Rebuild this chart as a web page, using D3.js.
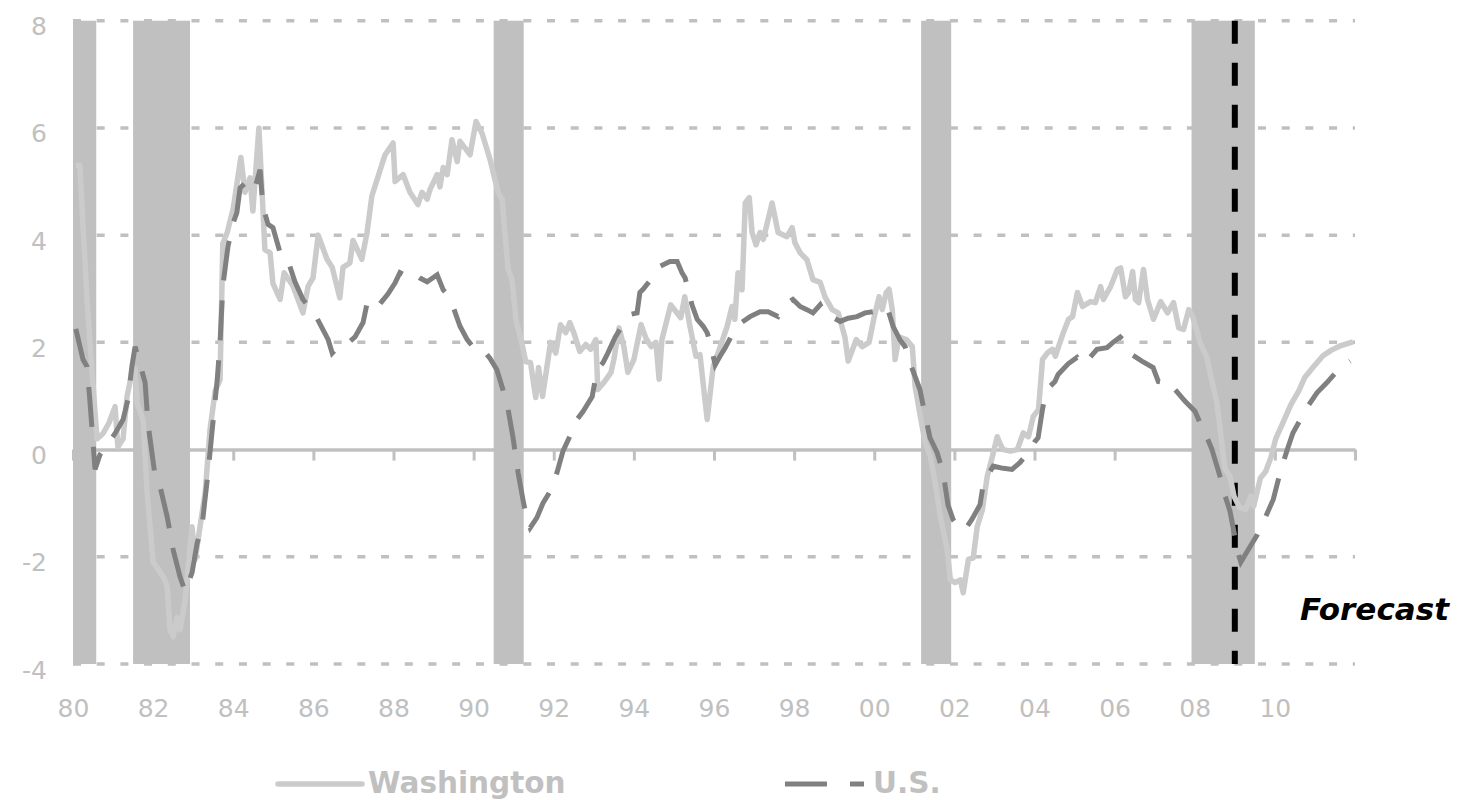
<!DOCTYPE html>
<html>
<head>
<meta charset="utf-8">
<script src="https://cdnjs.cloudflare.com/ajax/libs/d3/7.8.5/d3.min.js"></script>
<style>
  body { margin: 0; background: #fff; }
  svg { display: block; }
</style>
</head>
<body>
<svg></svg>
<script>
// Washington employment growth, %
const waYears = [1980.07, 1980.17, 1980.35, 1980.47, 1980.6, 1980.75, 1980.9, 1981.05, 1981.12, 1981.25,
  1981.35, 1981.47, 1981.55, 1981.6, 1981.75, 1981.85, 1982.0, 1982.25, 1982.35, 1982.42,
  1982.5, 1982.6, 1982.67, 1982.8, 1982.97, 1983.05, 1983.17, 1983.3, 1983.42, 1983.55,
  1983.67, 1983.74, 1983.85, 1984.0, 1984.19, 1984.29, 1984.42, 1984.49, 1984.64, 1984.74,
  1984.79, 1984.92, 1984.99, 1985.17, 1985.27, 1985.49, 1985.74, 1985.87, 1985.99, 1986.12,
  1986.34, 1986.47, 1986.66, 1986.74, 1986.91, 1986.99, 1987.21, 1987.34, 1987.46, 1987.66,
  1987.79, 1987.99, 1988.04, 1988.24, 1988.41, 1988.61, 1988.71, 1988.84, 1988.91, 1989.09,
  1989.16, 1989.24, 1989.34, 1989.46, 1989.59, 1989.66, 1989.91, 1990.06, 1990.21, 1990.41,
  1990.61, 1990.71, 1990.86, 1990.96, 1991.06, 1991.2, 1991.3, 1991.42, 1991.55, 1991.62,
  1991.72, 1991.92, 1992.05, 1992.17, 1992.3, 1992.4, 1992.5, 1992.65, 1992.8, 1992.92,
  1993.05, 1993.1, 1993.25, 1993.43, 1993.5, 1993.63, 1993.75, 1993.85, 1994.0, 1994.18,
  1994.3, 1994.43, 1994.55, 1994.63, 1994.7, 1994.92, 1995.17, 1995.27, 1995.4, 1995.55,
  1995.65, 1995.83, 1995.98, 1996.1, 1996.33, 1996.45, 1996.52, 1996.6, 1996.7, 1996.78,
  1996.88, 1996.95, 1997.05, 1997.15, 1997.23, 1997.45, 1997.6, 1997.82, 1997.95, 1998.02,
  1998.15, 1998.32, 1998.47, 1998.65, 1998.77, 1998.95, 1999.1, 1999.27, 1999.35, 1999.55,
  1999.7, 1999.87, 2000.0, 2000.12, 2000.2, 2000.3, 2000.37, 2000.45, 2000.52, 2000.62,
  2000.8, 2000.95, 2001.02, 2001.15, 2001.27, 2001.4, 2001.52, 2001.65, 2001.82, 2001.9,
  2002.02, 2002.15, 2002.22, 2002.35, 2002.47, 2002.57, 2002.7, 2002.82, 2002.95, 2003.07,
  2003.15, 2003.22, 2003.4, 2003.57, 2003.72, 2003.85, 2003.97, 2004.1, 2004.2, 2004.32,
  2004.45, 2004.52, 2004.6, 2004.72, 2004.85, 2004.95, 2005.07, 2005.2, 2005.4, 2005.52,
  2005.65, 2005.72, 2005.9, 2006.07, 2006.15, 2006.27, 2006.35, 2006.45, 2006.52, 2006.6,
  2006.72, 2006.82, 2006.97, 2007.15, 2007.32, 2007.47, 2007.6, 2007.72, 2007.85, 2007.95,
  2008.13, 2008.3, 2008.45, 2008.55, 2008.65, 2008.75, 2008.88, 2008.98, 2009.12, 2009.27,
  2009.4, 2009.47, 2009.64, 2009.77, 2009.9, 2010.02, 2010.2, 2010.4, 2010.6, 2010.75,
  2010.97, 2011.2, 2011.4, 2011.65, 2011.95];
const waValues = [5.3, 5.3, 2.8, 1.5, 0.2, 0.3, 0.5, 0.8, 0.05, 0.2,
  1.0, 1.43, 1.5, 0.87, 0.55, -0.8, -2.1, -2.37, -2.55, -3.36,
  -3.49, -3.13, -3.36, -2.8, -1.44, -2.05, -1.44, -0.8, 0.37, 1.1,
  1.3, 3.85, 4.05, 4.5, 5.45, 4.8, 5.07, 4.45, 6.0, 4.5,
  3.73, 3.67, 3.1, 2.8, 3.3, 3.05, 2.55, 3.05, 3.2, 4.0,
  3.55, 3.4, 2.83, 3.4, 3.48, 3.9, 3.55, 4.05, 4.73, 5.2,
  5.5, 5.72, 5.0, 5.13, 4.8, 4.57, 4.8, 4.67, 4.85, 5.13,
  4.9, 5.26, 5.13, 5.78, 5.37, 5.75, 5.5, 6.12, 5.9, 5.41,
  4.8, 4.67, 3.36, 3.17, 2.4, 2.0, 1.64, 1.62, 0.97, 1.53,
  0.99, 2.0, 1.8, 2.33, 2.18, 2.37, 2.18, 1.83, 1.96, 1.87,
  2.05, 1.12, 1.25, 1.44, 1.68, 2.27, 1.92, 1.44, 1.68, 2.33,
  2.08, 1.92, 2.0, 1.31, 2.05, 2.7, 2.46, 2.85, 2.3, 1.74,
  1.77, 0.56, 1.55, 1.8, 2.3, 2.67, 2.43, 3.3, 2.98, 4.6,
  4.7, 4.05, 3.82, 4.05, 3.92, 4.6, 4.05, 3.97, 4.14, 3.86,
  3.67, 3.54, 3.17, 3.12, 2.85, 2.61, 2.55, 2.09, 1.65, 2.05,
  1.92, 2.0, 2.48, 2.85, 2.61, 2.93, 2.99, 2.61, 1.68, 2.1,
  2.05, 1.92, 1.18, 0.62, 0.13, -0.13, -0.62, -1.25, -1.87, -2.43,
  -2.48, -2.43, -2.67, -2.05, -2.02, -1.44, -1.12, -0.5, -0.13, 0.24,
  0.09, 0.0, -0.03, 0.0, 0.31, 0.24, 0.62, 0.75, 1.68, 1.8,
  1.87, 1.74, 1.92, 2.18, 2.43, 2.48, 2.93, 2.67, 2.76, 2.74,
  3.04, 2.8, 3.04, 3.36, 3.39, 2.85, 2.93, 3.32, 2.8, 2.74,
  3.36, 2.8, 2.43, 2.76, 2.55, 2.74, 2.27, 2.24, 2.61, 2.48,
  2.0, 1.72, 1.2, 0.9, 0.28, -0.35, -0.5, -0.87, -1.08, -1.12,
  -0.87, -1.06, -0.53, -0.41, -0.15, 0.2, 0.5, 0.84, 1.1, 1.35,
  1.55, 1.75, 1.85, 1.94, 2.01];

// U.S. employment growth, %
const usYears = [1980.07, 1980.25, 1980.35, 1980.42, 1980.55, 1980.67, 1980.85, 1981.05, 1981.25, 1981.37,
  1981.47, 1981.55, 1981.67, 1981.8, 1981.87, 1982.05, 1982.17, 1982.35, 1982.5, 1982.67,
  1982.8, 1982.97, 1983.1, 1983.22, 1983.37, 1983.5, 1983.6, 1983.67, 1983.74, 1983.87,
  1984.0, 1984.09, 1984.17, 1984.34, 1984.47, 1984.54, 1984.67, 1984.74, 1984.87, 1984.99,
  1985.17, 1985.34, 1985.54, 1985.74, 1986.04, 1986.37, 1986.47, 1986.62, 1986.79, 1987.04,
  1987.24, 1987.36, 1987.54, 1987.71, 1987.86, 1988.04, 1988.16, 1988.34, 1988.49, 1988.66,
  1988.84, 1989.09, 1989.24, 1989.41, 1989.66, 1989.84, 1990.03, 1990.23, 1990.41, 1990.58,
  1990.73, 1990.86, 1990.98, 1991.11, 1991.23, 1991.33, 1991.41, 1991.58, 1991.73, 1991.91,
  1992.08, 1992.23, 1992.46, 1992.58, 1992.73, 1992.96, 1993.08, 1993.23, 1993.35, 1993.53,
  1993.7, 1993.9, 1994.08, 1994.15, 1994.23, 1994.45, 1994.65, 1994.9, 1995.08, 1995.2,
  1995.28, 1995.45, 1995.58, 1995.73, 1995.83, 1995.9, 1996.03, 1996.15, 1996.28, 1996.45,
  1996.65, 1996.9, 1997.15, 1997.35, 1997.6, 1997.85, 1997.97, 1998.15, 1998.32, 1998.47,
  1998.65, 1998.82, 1998.97, 1999.15, 1999.35, 1999.57, 1999.77, 1999.97, 2000.14, 2000.34,
  2000.47, 2000.64, 2000.77, 2000.9, 2001.02, 2001.14, 2001.24, 2001.39, 2001.57, 2001.72,
  2001.84, 2001.97, 2002.14, 2002.27, 2002.44, 2002.64, 2002.72, 2002.84, 2002.97, 2003.22,
  2003.44, 2003.64, 2003.76, 2003.89, 2004.01, 2004.09, 2004.19, 2004.26, 2004.39, 2004.51,
  2004.59, 2004.84, 2005.06, 2005.21, 2005.34, 2005.56, 2005.81, 2005.96, 2006.14, 2006.26,
  2006.43, 2006.68, 2006.96, 2007.09, 2007.26, 2007.38, 2007.51, 2007.76, 2008.01, 2008.13,
  2008.26, 2008.43, 2008.63, 2008.76, 2008.88, 2009.08, 2009.15, 2009.35, 2009.56, 2009.76,
  2009.96, 2010.13, 2010.31, 2010.45, 2010.63, 2010.8, 2011.05, 2011.3, 2011.58, 2011.88];
const usValues = [2.25, 1.68, 1.55, 0.93, -0.37, -0.1, 0.09, 0.3, 0.56, 0.93,
  1.55, 1.92, 1.6, 1.25, 0.5, -0.5, -0.68, -1.25, -1.87, -2.37,
  -2.65, -2.3, -1.74, -1.43, -0.43, 0.56, 1.3, 2.0, 3.05, 3.8,
  4.23, 4.42, 4.88, 5.0, 5.0, 4.88, 5.22, 4.53, 4.2, 4.14,
  3.67, 3.58, 3.13, 2.8, 2.52, 2.05, 1.8, 1.92, 1.94, 2.1,
  2.37, 2.8, 2.86, 2.76, 2.9, 3.11, 3.3, 3.23, 3.3, 3.2,
  3.13, 3.26, 2.98, 2.83, 2.3, 2.05, 1.87, 1.87, 1.7, 1.49,
  1.12, 0.75, 0.24, -0.43, -0.93, -1.31, -1.46, -1.27, -1.0, -0.78,
  -0.43, -0.03, 0.34, 0.56, 0.71, 0.99, 1.49, 1.62, 1.8, 2.09,
  2.3, 2.52, 2.55, 2.93, 2.99, 3.2, 3.42, 3.51, 3.51, 3.3,
  3.2, 2.7, 2.43, 2.3, 2.18, 2.0, 1.58, 1.74, 1.9, 2.14,
  2.35, 2.48, 2.57, 2.57, 2.48, 2.74, 2.8, 2.67, 2.61, 2.55,
  2.7, 2.48, 2.46, 2.39, 2.45, 2.48, 2.55, 2.57, 2.52, 2.61,
  2.3, 2.05, 1.92, 1.6, 1.36, 1.12, 0.75, 0.22, -0.06, -0.43,
  -1.03, -1.31, -1.49, -1.49, -1.3, -1.03, -0.65, -0.47, -0.31, -0.35,
  -0.37, -0.24, -0.13, 0.0, 0.15, 0.22, 0.71, 0.99, 1.18, 1.27,
  1.4, 1.6, 1.72, 1.58, 1.68, 1.87, 1.9, 2.0, 2.1, 2.01,
  1.77, 1.65, 1.53, 1.27, 1.25, 1.27, 1.12, 0.9, 0.71, 0.5,
  0.31, 0.0, -0.5, -0.87, -1.15, -1.93, -2.1, -1.85, -1.59, -1.27,
  -0.93, -0.43, 0.0, 0.31, 0.55, 0.78, 1.06, 1.25, 1.49, 1.65];

// Recessions (start, end) as fractional years
const recessions = [[1980.0, 1980.58], [1981.5, 1982.92], [1990.5, 1991.25], [2001.17, 2001.92], [2007.92, 2009.5]];
const forecastStart = 2009.0;

const yTicks = [-4, -2, 0, 2, 4, 6, 8];
const xTickYears = d3.range(1980, 2013, 2);
const xLabelYears = d3.range(1980, 2011, 2);

const svgWidth = 1472;
const svgHeight = 800;

const svg = d3.select("svg")
    .attr("width", svgWidth)
    .attr("height", svgHeight);

const x = d3.scaleLinear().domain([1980, 2012]).range([73, 1355]);
const y = d3.scaleLinear().domain([-4, 8]).range([664, 20.7]);

const grey = "#c0c0c0";
const font = "'DejaVu Sans', Verdana, sans-serif";

// Dashed gridlines
svg.append("g")
    .selectAll("line")
    .data(yTicks.filter(d => d !== 0))
    .enter()
    .append("line")
    .attr("x1", x(1980))
    .attr("x2", x(2012))
    .attr("y1", d => y(d))
    .attr("y2", d => y(d))
    .attr("stroke", grey)
    .attr("stroke-width", 3.5)
    .attr("stroke-dasharray", "8,15.7");

// Zero axis with tick marks every two years
const xAxis = svg.append("g")
    .attr("transform", `translate(0,${y(0)})`)
    .call(d3.axisBottom(x).tickValues(xTickYears).tickSize(11).tickSizeOuter(0).tickFormat(""));
xAxis.select(".domain").attr("stroke", grey).attr("stroke-width", 3.5);
xAxis.selectAll(".tick line").attr("stroke", grey).attr("stroke-width", 3);

// Recession bars
svg.append("g")
    .selectAll("rect")
    .data(recessions)
    .enter()
    .append("rect")
    .attr("x", d => x(d[0]))
    .attr("width", d => x(d[1]) - x(d[0]))
    .attr("y", y(8))
    .attr("height", y(-4) - y(8))
    .attr("fill", grey);

// Forecast marker
svg.append("line")
    .attr("x1", x(forecastStart))
    .attr("x2", x(forecastStart))
    .attr("y1", y(8))
    .attr("y2", y(-4))
    .attr("stroke", "#000")
    .attr("stroke-width", 6)
    .attr("stroke-dasharray", "23,19");

svg.append("text")
    .attr("x", 1300)
    .attr("y", 620)
    .attr("font-family", font)
    .attr("font-weight", "bold")
    .attr("font-style", "italic")
    .attr("font-size", 31)
    .attr("fill", "#000")
    .text("Forecast");

// Series
const line = d3.line()
    .x(d => x(d[0]))
    .y(d => y(d[1]));

svg.append("path")
    .datum(d3.zip(waYears, waValues))
    .attr("fill", "none")
    .attr("stroke", "#cbcbcb")
    .attr("stroke-width", 5.5)
    .attr("stroke-linejoin", "round")
    .attr("d", line);

svg.append("path")
    .datum(d3.zip(usYears, usValues))
    .attr("fill", "none")
    .attr("stroke", "#808080")
    .attr("stroke-width", 5)
    .attr("stroke-dasharray", "40,20")
    .attr("d", line);

// Y-axis labels (plain hyphen for negatives), sitting a little below each gridline
const yAxis = svg.append("g")
    .attr("transform", "translate(47,0)")
    .call(d3.axisLeft(y).tickValues(yTicks).tickSize(0).tickPadding(0).tickFormat(d => String(d)));
yAxis.select(".domain").remove();
yAxis.selectAll("text")
    .attr("dy", "0.56em")
    .attr("fill", grey)
    .attr("font-family", font)
    .attr("font-size", 25);

// X-axis labels
const xLabels = svg.append("g")
    .attr("transform", `translate(0,${y(-4)})`)
    .call(d3.axisBottom(x).tickValues(xLabelYears).tickSize(0).tickPadding(35)
        .tickFormat(d => String(d % 100).padStart(2, "0")));
xLabels.select(".domain").remove();
xLabels.selectAll("text")
    .attr("fill", grey)
    .attr("font-family", font)
    .attr("font-size", 25);

// Legend
const legend = svg.append("g")
    .attr("font-family", font)
    .attr("font-weight", "bold")
    .attr("font-size", 29.5)
    .attr("fill", grey);

legend.append("line")
    .attr("x1", 278).attr("x2", 362)
    .attr("y1", 784).attr("y2", 784)
    .attr("stroke", "#cbcbcb")
    .attr("stroke-width", 5.5)
    .attr("stroke-linecap", "round");
legend.append("text").attr("x", 368).attr("y", 793).text("Washington");

legend.append("line")
    .attr("x1", 785).attr("x2", 864)
    .attr("y1", 784).attr("y2", 784)
    .attr("stroke", "#808080")
    .attr("stroke-width", 5)
    .attr("stroke-dasharray", "42,23");
legend.append("text").attr("x", 873).attr("y", 793).text("U.S.");
</script>
</body>
</html>
